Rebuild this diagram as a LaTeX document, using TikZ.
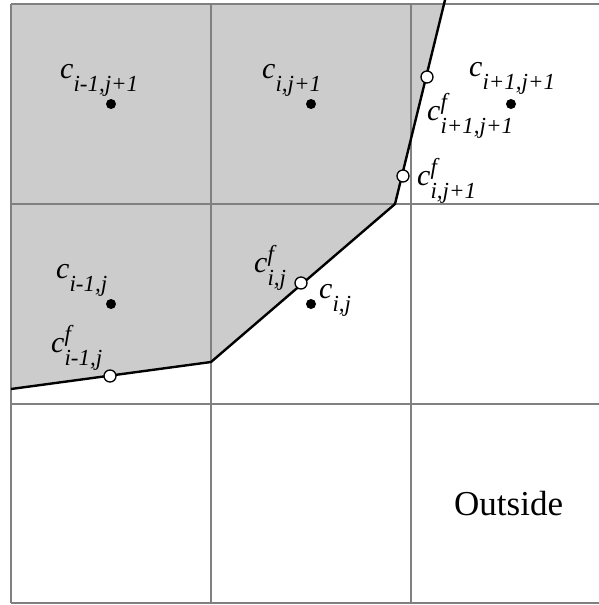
\documentclass[tikz,border=0pt]{standalone}
\usepackage{fontspec}
\setmainfont{Liberation Serif}
\usepackage{tikz}
\usetikzlibrary{positioning}

\definecolor{gridgray}{HTML}{808080}
\definecolor{fillgray}{HTML}{CCCCCC}

\newcommand{\subsz}{\fontsize{23}{24}\selectfont}
\newcommand{\clab}[1]{\textit{c}\raisebox{-13pt}{\subsz\textit{#1}}}
\newcommand{\cflab}[1]{\textit{c}\rlap{\raisebox{11pt}{\subsz\textit{f}}}\raisebox{-13pt}{\subsz\textit{#1}}}

\begin{document}
\begin{tikzpicture}[
        x=1pt, y=-1pt,
        gridline/.style={draw=gridgray, line width=2.2pt},
        front/.style={draw=black, line width=2.4pt, line join=miter},
        center/.style={circle, fill=black, inner sep=0pt, minimum size=10pt},
        facept/.style={circle, fill=white, draw=black, line width=1.3pt, inner sep=0pt, minimum size=12pt},
        lab/.style={anchor=base west, inner sep=0pt, font=\fontsize{30}{34}\selectfont}
    ]
    \useasboundingbox (0,0) rectangle (599,605);

    % interface points
    \coordinate (p0) at (11,389);
    \coordinate (p1) at (211,362);
    \coordinate (p2) at (395,204);
    \coordinate (p3) at (445,0);

    \fill[fillgray] (11,4) -- (444,4) -- (p2) -- (p1) -- (p0) -- cycle;

    % grid
    \foreach \x in {11,211,411}
        \draw[gridline] (\x,4) -- (\x,603);
    \foreach \y in {4,204,404,603}
        \draw[gridline] (11,\y) -- (599,\y);

    \draw[front] (p0) -- (p1) -- (p2) -- (p3);

    % cell centres
    \node (cA) [center] at (111,104) {};
    \node (cB) [center] at (311,104) {};
    \node (cC) [center] at (511,104) {};
    \node (cD) [center] at (111,304) {};
    \node (cE) [center] at (311,304) {};

    % face points on the interface
    \node (fD) [facept] at (110,376) {};
    \node (fE) [facept] at (301,283) {};
    \node (fB) [facept] at (403,176) {};
    \node (fC) [facept] at (427,77) {};

    \node (lA) [lab] at (60,78) {\clab{i-1,j+1}};
    \node (lB) [lab] at (262,78) {\clab{i,j+1}};
    \node (lC) [lab] at (469,76) {\clab{i+1,j+1}};
    \node (lfC) [lab] at (427,120) {\cflab{i+1,j+1}};
    \node (lfB) [lab] at (417,185) {\cflab{i,j+1}};
    \node (lD) [lab] at (56,278) {\clab{i-1,j}};
    \node (lfE) [lab] at (254,272) {\cflab{i,j}};
    \node (lE) [lab] at (319,298) {\clab{i,j}};
    \node (lfD) [lab] at (51,352) {\cflab{i-1,j}};

    \node (out) [anchor=base west, inner sep=0pt, font=\fontsize{35}{40}\selectfont] at (454,515) {Outside};
\end{tikzpicture}
\end{document}
